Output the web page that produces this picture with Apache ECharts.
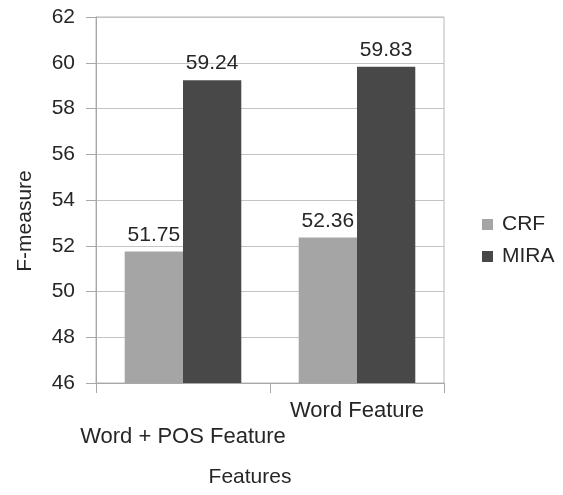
<!DOCTYPE html>
<html>
<head>
<meta charset="utf-8">
<script src="https://cdn.jsdelivr.net/npm/echarts@6/dist/echarts.min.js"></script>
<style>
html,body{margin:0;padding:0;background:#fff;}
#chart{width:563px;height:495px;}
</style>
</head>
<body>
<div id="chart"></div>
<script>
var categories = ['Word + POS Feature', 'Word Feature'];
var seriesNames = ['CRF', 'MIRA'];
var crfValues = [51.75, 52.36];
var miraValues = [59.24, 59.83];
var yTicks = [46, 48, 50, 52, 54, 56, 58, 60, 62];

var font = 'Liberation Sans, Arial, sans-serif';
var textColor = '#262626';
var chart = echarts.init(document.getElementById('chart'), null, {renderer: 'canvas'});
var labelOpt = {
  show: true, position: 'top', distance: 6,
  fontFamily: font, fontSize: 21, color: textColor,
  formatter: function (p) { return p.value.toFixed(2); }
};
chart.setOption({
  animation: false,
  backgroundColor: '#fff',
  textStyle: {fontFamily: font},
  grid: {left: 96, right: 119, top: 17, bottom: 112, show: true, borderColor: '#b8b8b8', borderWidth: 1},
  legend: {
    orient: 'vertical', left: 477, top: 209,
    itemWidth: 11, itemHeight: 11, itemGap: 11,
    icon: 'rect',
    textStyle: {fontFamily: font, fontSize: 21, color: textColor, lineHeight: 21, padding: [0, 0, 0, 4]},
    data: seriesNames
  },
  xAxis: {
    type: 'category',
    data: categories,
    name: 'Features',
    nameLocation: 'middle',
    nameGap: 84,
    nameTextStyle: {fontFamily: font, fontSize: 21, color: textColor, padding: [0, 40, 0, 0]},
    axisLine: {lineStyle: {color: '#a8a8a8'}},
    axisTick: {show: true, length: 10, alignWithLabel: false, lineStyle: {color: '#a8a8a8'}},
    axisLabel: {
      interval: 0, margin: 15, fontFamily: font, fontSize: 22, color: textColor, lineHeight: 26,
      formatter: function (v, i) { return i === 0 ? '\n' + v : v; }
    },
    splitLine: {show: false}
  },
  yAxis: {
    type: 'value',
    min: yTicks[0], max: yTicks[yTicks.length - 1], interval: 2,
    name: 'F-measure',
    nameLocation: 'middle',
    nameGap: 60,
    nameTextStyle: {fontFamily: font, fontSize: 21, color: textColor, padding: [0, 42, 0, 0]},
    axisLine: {show: true, lineStyle: {color: '#a8a8a8'}},
    axisTick: {show: true, length: 10, lineStyle: {color: '#a8a8a8'}},
    axisLabel: {margin: 21, fontFamily: font, fontSize: 21, color: textColor},
    splitLine: {show: true, lineStyle: {color: '#c4c4c4', width: 1}}
  },
  series: [
    {name: seriesNames[0], type: 'bar', data: crfValues, barGap: '0%', barCategoryGap: '33%',
     itemStyle: {color: '#a5a5a5'}, label: labelOpt},
    {name: seriesNames[1], type: 'bar', data: miraValues, barGap: '0%', barCategoryGap: '33%',
     itemStyle: {color: '#484848'}, label: labelOpt}
  ]
});
</script>
</body>
</html>
